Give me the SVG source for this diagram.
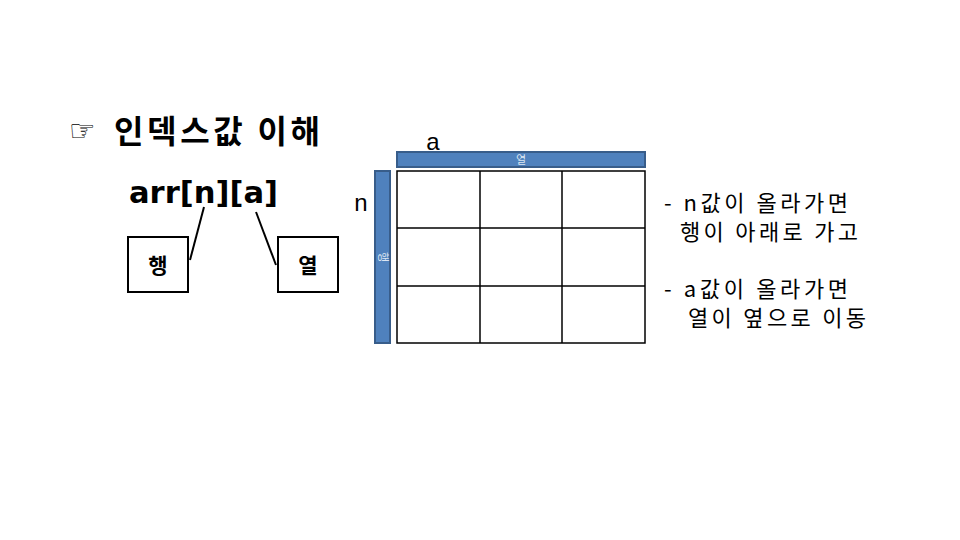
<svg xmlns="http://www.w3.org/2000/svg" width="960" height="540" viewBox="0 0 960 540">
<style>
.k{font-family:"Noto Sans CJK KR","Liberation Sans",sans-serif;fill:#000}
.b{font-weight:bold}
.box{fill:#fff;stroke:#000;stroke-width:2}
.bar{fill:#4f81bd;stroke:#385d8a;stroke-width:2}
.g{stroke:#000;stroke-width:1.5;fill:none}
.w{font-family:"Noto Sans CJK KR",sans-serif;font-size:11px;fill:#dce6f2}
</style>
<rect width="960" height="540" fill="#fff"/>
<g id="title">
<text x="69" y="141" font-family="DejaVu Sans,sans-serif" font-size="30">☞</text>
<text x="114" y="143" class="k b" font-size="32" textLength="206" lengthAdjust="spacing">인덱스값 이해</text>
</g>
<g id="expr"><text x="129" y="203" font-family="DejaVu Sans,sans-serif" font-weight="bold" font-size="30" textLength="149" lengthAdjust="spacingAndGlyphs">arr[n][a]</text></g>
<g id="row-box"><rect x="128" y="237" width="60" height="55" class="box"/><text x="158" y="273" class="k b" font-size="21" text-anchor="middle">행</text></g>
<g id="col-box"><rect x="278" y="237" width="60" height="55" class="box"/><text x="308" y="273" class="k b" font-size="21" text-anchor="middle">열</text></g>
<g id="connectors" stroke="#000" stroke-width="2">
<line x1="204" y1="207" x2="190" y2="260"/>
<line x1="256" y1="212" x2="276" y2="265"/>
</g>
<g id="labels">
<text x="433" y="150" font-family="Liberation Sans,sans-serif" font-size="24" text-anchor="middle">a</text>
<text x="361" y="211" font-family="Liberation Sans,sans-serif" font-size="24" text-anchor="middle">n</text>
</g>
<g id="col-bar"><rect x="397" y="152" width="248" height="15" class="bar"/><text x="521" y="164" class="w" text-anchor="middle">열</text></g>
<g id="row-bar"><rect x="375" y="171" width="15" height="172" class="bar"/><text x="383" y="257" class="w" text-anchor="middle" transform="rotate(90 383 257)" dy="4">행</text></g>
<g id="grid">
<rect x="397" y="171" width="248" height="172" class="g"/>
<line x1="480" y1="171" x2="480" y2="343" class="g"/>
<line x1="562" y1="171" x2="562" y2="343" class="g"/>
<line x1="397" y1="228" x2="645" y2="228" class="g"/>
<line x1="397" y1="286" x2="645" y2="286" class="g"/>
</g>
<g id="notes" class="k" font-size="22">
<text x="664" y="211" textLength="184" lengthAdjust="spacing">- n값이 올라가면</text>
<text x="680" y="240" textLength="178" lengthAdjust="spacing">행이 아래로 가고</text>
<text x="664" y="297" textLength="184" lengthAdjust="spacing">- a값이 올라가면</text>
<text x="688" y="326" textLength="178" lengthAdjust="spacing">열이 옆으로 이동</text>
</g>
</svg>
